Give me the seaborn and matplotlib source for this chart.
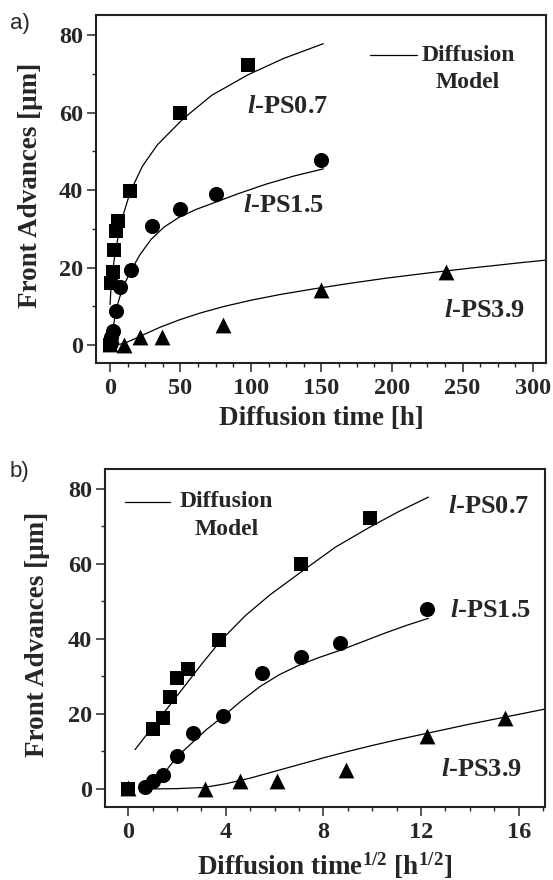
import numpy as np
import pandas as pd
import seaborn as sns
import matplotlib
matplotlib.use("Agg")
import matplotlib.pyplot as plt
from matplotlib.ticker import MultipleLocator

# ---- measured front advances (time in h, advance in um) ----
t_ps07 = [0, 1, 2, 3, 4, 6, 14, 50, 98]
y_ps07 = [0, 16.0, 19.0, 24.5, 29.5, 32.0, 39.7, 60.0, 72.2]

t_ps15 = [0.5, 1, 2, 4, 7, 15, 30, 50, 75, 150]
y_ps15 = [0.6, 2.2, 3.7, 8.8, 15.0, 19.5, 30.8, 35.2, 38.9, 47.9]

t_ps39 = [0, 10, 21, 37, 80, 150, 238]
y_ps39 = [0.2, 0.1, 2.2, 2.2, 5.1, 14.2, 19.0]

# ---- diffusion model curves (x = sqrt(time) in h^1/2) ----
s_mod07 = [0.28, 1, 2, 3, 3.8, 4.8, 5.8, 7.2, 8.5, 9.9, 11.1, 12.3]
y_mod07 = [10.5, 16.5, 24.8, 33.2, 39.6, 46.2, 51.7, 58.4, 64.5, 69.8, 74.0, 77.8]

s_mod15 = [0.6, 1.0, 1.4, 2.0, 2.6, 3.2, 3.9, 4.6, 5.4, 6.2, 7.0, 7.8, 8.7, 9.5, 10.5, 11.4, 12.3]
y_mod15 = [0.2, 1.5, 3.6, 8.6, 12.2, 15.8, 19.4, 23.3, 27.3, 30.5, 33.0, 35.0, 37.0, 39.0, 41.5, 43.6, 45.5]

s_mod39 = [0.8, 2, 3.1, 4, 5, 6, 7, 8, 9, 10, 11, 12, 13, 14, 15, 16, 17, 17.7]
y_mod39 = [0, 0.1, 0.4, 1.4, 2.9, 4.7, 6.5, 8.3, 10.0, 11.6, 13.1, 14.5, 15.9, 17.3, 18.6, 19.9, 21.2, 22.1]

series_names = ["l-PS0.7", "l-PS1.5", "l-PS3.9"]
markers = {"l-PS0.7": "s", "l-PS1.5": "o", "l-PS3.9": "^"}
msizes = {"l-PS0.7": 100, "l-PS1.5": 118, "l-PS3.9": 130}

meas = pd.concat([
    pd.DataFrame({"series": "l-PS0.7", "t": t_ps07, "y": y_ps07}),
    pd.DataFrame({"series": "l-PS1.5", "t": t_ps15, "y": y_ps15}),
    pd.DataFrame({"series": "l-PS3.9", "t": t_ps39, "y": y_ps39}),
], ignore_index=True)
meas["sqrt_t"] = np.sqrt(meas["t"])

model = pd.concat([
    pd.DataFrame({"series": "l-PS0.7", "s": s_mod07, "y": y_mod07}),
    pd.DataFrame({"series": "l-PS1.5", "s": s_mod15, "y": y_mod15}),
    pd.DataFrame({"series": "l-PS3.9", "s": s_mod39, "y": y_mod39}),
], ignore_index=True)
model["t"] = model["s"] ** 2

sns.set_style("ticks")
plt.rcParams["font.family"] = ["Liberation Serif", "DejaVu Serif"]
plt.rcParams["font.weight"] = "bold"
plt.rcParams["axes.labelweight"] = "bold"
plt.rcParams["mathtext.fontset"] = "custom"
plt.rcParams["mathtext.rm"] = "Liberation Serif"
plt.rcParams["mathtext.it"] = "Liberation Serif:italic:bold"
plt.rcParams["mathtext.bf"] = "Liberation Serif:bold"

W, H = 553, 880
fig = plt.figure(figsize=(W / 100, H / 100), dpi=100)
ax_a = fig.add_axes([96 / W, (H - 363) / H, 450 / W, 348 / H])
ax_b = fig.add_axes([105 / W, (H - 807) / H, 440 / W, 338 / H])

TICK_FS = 17.5
LABEL_FS = 19.5
SERIES_FS = 19
LEG_FS = 17


def draw(ax, xcol_meas, xcol_model):
    for name in series_names:
        sub = model[model["series"] == name]
        sns.lineplot(data=sub, x=xcol_model, y="y", ax=ax, color="black",
                     lw=0.9, sort=False, estimator=None, legend=False)
    for name in series_names:
        sub = meas[meas["series"] == name]
        sns.scatterplot(data=sub, x=xcol_meas, y="y", ax=ax, marker=markers[name],
                        s=msizes[name], color="black", edgecolor="black",
                        linewidth=0, legend=False, zorder=3)
    for sp in ax.spines.values():
        sp.set_linewidth(1.5)
        sp.set_color("#222222")
    ax.tick_params(which="major", direction="out", length=6.5, width=1.1,
                   labelsize=TICK_FS, pad=3)
    ax.tick_params(axis="x", which="major", pad=4.5)
    ax.tick_params(which="minor", direction="out", length=3.2, width=1.0)
    ax.yaxis.set_major_locator(MultipleLocator(20))
    ax.yaxis.set_minor_locator(MultipleLocator(10))
    ax.set_ylabel("Front Advances [μm]", fontsize=LABEL_FS, fontweight="bold")


def label(ax, x, y, txt):
    ax.text(x, y, r"$\mathit{l}$" + txt, fontsize=SERIES_FS, fontweight="bold",
            ha="left", va="center")


def legend_text(ax, xl0, xl1, xt, y1, y2):
    ax.plot([xl0, xl1], [y1, y1], transform=ax.transAxes, color="black", lw=0.9)
    ax.text(xt, y1, "Diffusion", transform=ax.transAxes, ha="center", va="center",
            fontsize=LEG_FS, fontweight="bold")
    ax.text(xt, y2, "Model", transform=ax.transAxes, ha="center", va="center",
            fontsize=LEG_FS, fontweight="bold")


# ---- panel a ----
draw(ax_a, "t", "t")
ax_a.set_xlim(-9.9, 309.2)
ax_a.set_ylim(-4.6, 85.2)
ax_a.xaxis.set_major_locator(MultipleLocator(50))
ax_a.xaxis.set_minor_locator(MultipleLocator(12.5))
ax_a.set_xlabel("Diffusion time [h]", fontsize=LABEL_FS, fontweight="bold", labelpad=5)
for lbl in ax_a.get_xticklabels() + ax_a.get_yticklabels():
    lbl.set_fontweight("bold")
label(ax_a, 97, 61.6, "-PS0.7")
label(ax_a, 94, 36.1, "-PS1.5")
label(ax_a, 237, 9.0, "-PS3.9")
legend_text(ax_a, 0.609, 0.713, 0.827, 0.885, 0.805)

# ---- panel b ----
draw(ax_b, "sqrt_t", "s")
ax_b.set_xlim(-0.95, 17.08)
ax_b.set_ylim(-4.8, 85.3)
ax_b.xaxis.set_major_locator(MultipleLocator(4))
ax_b.xaxis.set_minor_locator(MultipleLocator(1))
ax_b.set_xlabel(r"Diffusion time$^{\mathrm{1/2}}$ [h$^{\mathrm{1/2}}$]", fontsize=LABEL_FS,
                fontweight="bold", labelpad=5)
for lbl in ax_b.get_xticklabels() + ax_b.get_yticklabels():
    lbl.set_fontweight("bold")
label(ax_b, 13.1, 75.2, "-PS0.7")
label(ax_b, 13.2, 47.7, "-PS1.5")
label(ax_b, 12.8, 5.3, "-PS3.9")
legend_text(ax_b, 0.045, 0.148, 0.276, 0.903, 0.82)

fig.text(10 / W, 1 - 24 / H, "a)", family="Liberation Sans", fontweight="normal",
         fontsize=16, ha="left", va="center")
fig.text(10 / W, 1 - 471 / H, "b)", family="Liberation Sans", fontweight="normal",
         fontsize=16, ha="left", va="center")

ax_a.yaxis.set_label_coords(-(96 - 43) / 450, 0.51)
ax_b.yaxis.set_label_coords(-(105 - 50) / 440, 0.51)

fig.savefig("out.png", dpi=100)
